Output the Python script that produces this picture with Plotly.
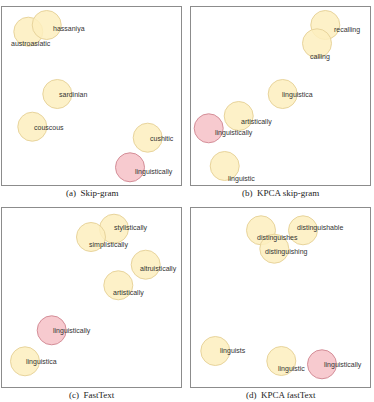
import plotly.graph_objects as go

# ---------------- data ----------------
query = "linguistically"
captions = ["(a)  Skip-gram", "(b)  KPCA skip-gram", "(c)  FastText", "(d)  KPCA fastText"]

words_a = ["austroasiatic", "hassaniya", "sardinian", "couscous", "cushitic", "linguistically"]
x_a = [26.3, 44.7, 55.3, 30.3, 145.7, 128.0]
y_a = [153.3, 160.0, 91.0, 58.3, 47.3, 17.7]

words_b = ["recalling", "calling", "linguistica", "artistically", "linguistically", "linguistic"]
x_b = [134.3, 126.0, 91.7, 47.7, 17.7, 33.7]
y_b = [160.0, 141.7, 91.0, 69.0, 56.7, 19.0]

words_c = ["stylistically", "simplistically", "altruistically", "artistically", "linguistically", "linguistica"]
x_c = [112.0, 89.0, 143.7, 116.3, 49.7, 23.0]
y_c = [158.3, 150.0, 122.3, 101.7, 56.7, 25.7]

words_d = ["distinguishes", "distinguishable", "distinguishing", "linguists", "linguistic", "linguistically"]
x_d = [70.0, 112.0, 83.3, 24.3, 90.3, 131.0]
y_d = [156.7, 156.7, 138.3, 36.0, 26.0, 22.7]

# ---------------- layout / style ----------------
W, H = 374, 402
# panel frames in pixels: (left, top, right, bottom)
frames = [(2, 7, 181, 185), (191, 7, 370, 185), (2, 208, 181, 387), (191, 208, 370, 387)]
caption_y = [193, 193, 395, 395]
# label pixel offsets (dx right, dy down) relative to circle centers
label_shift = [
    [(-19, 11.6), (4.3, 4), (-0.6, 0.7), (-0.3, 0.6), (0, 0.6), (3.3, 4.4)],
    [(6.7, 5), (-9.3, 13.4), (-3, 0.7), (0, 5.7), (4.3, 5), (1.6, 12.7)],
    [(-2, -1), (-4.3, 7.7), (-8, 4), (-7.3, 7.4), (-0.7, 0.7), (-0.7, 0.7)],
    [(-5.7, 7.7), (-7.7, -2.6), (-11.3, 3.3), (2.4, 0.3), (-5.3, 7.7), (0, 1)],
]
YELLOW_FILL = "rgba(253,238,190,0.85)"
YELLOW_LINE = "#e8d49c"
RED_FILL = "rgba(246,196,202,0.9)"
RED_LINE = "#d48e98"

panels = [(words_a, x_a, y_a), (words_b, x_b, y_b), (words_c, x_c, y_c), (words_d, x_d, y_d)]

fig = go.Figure()
annotations = []
for i, ((words, xs, ys), (l, t, r, b)) in enumerate(zip(panels, frames)):
    n = "" if i == 0 else str(i + 1)
    fills = [RED_FILL if w == query else YELLOW_FILL for w in words]
    lines = [RED_LINE if w == query else YELLOW_LINE for w in words]
    fig.add_trace(go.Scatter(
        x=xs, y=ys, mode="markers", xaxis="x" + n, yaxis="y" + n,
        marker=dict(size=29, color=fills, line=dict(color=lines, width=1)),
        hoverinfo="text", text=words, showlegend=False,
    ))
    for w, xv, yv, (dx, dy) in zip(words, xs, ys, label_shift[i]):
        annotations.append(dict(
            x=xv, y=yv, xref="x" + n, yref="y" + n, text=w, showarrow=False,
            xanchor="left", yanchor="middle", xshift=dx, yshift=-dy,
            font=dict(family="Liberation Sans, Arial", size=7, color="#333333"),
        ))
    annotations.append(dict(
        x=(l + r) / 2 / W, y=1 - caption_y[i] / H, xref="paper", yref="paper",
        text=captions[i], showarrow=False, xanchor="center", yanchor="middle",
        font=dict(family="Liberation Serif, Times New Roman", size=9, color="#222222"),
    ))
    ax = dict(domain=[l / W, r / W], range=[0, r - l], showgrid=False, zeroline=False,
              showticklabels=False, ticks="", showline=True, mirror=True,
              linecolor="#8c8c8c", linewidth=1, fixedrange=True)
    ay = dict(domain=[1 - b / H, 1 - t / H], range=[0, b - t], showgrid=False, zeroline=False,
              showticklabels=False, ticks="", showline=True, mirror=True,
              linecolor="#8c8c8c", linewidth=1, fixedrange=True)
    ax["anchor"] = "y" + n
    ay["anchor"] = "x" + n
    fig.layout["xaxis" + n] = ax
    fig.layout["yaxis" + n] = ay

fig.update_layout(
    width=W, height=H, margin=dict(l=0, r=0, t=0, b=0),
    paper_bgcolor="white", plot_bgcolor="white",
    annotations=annotations,
)
fig.write_html("out.html", config={"displayModeBar": False})
